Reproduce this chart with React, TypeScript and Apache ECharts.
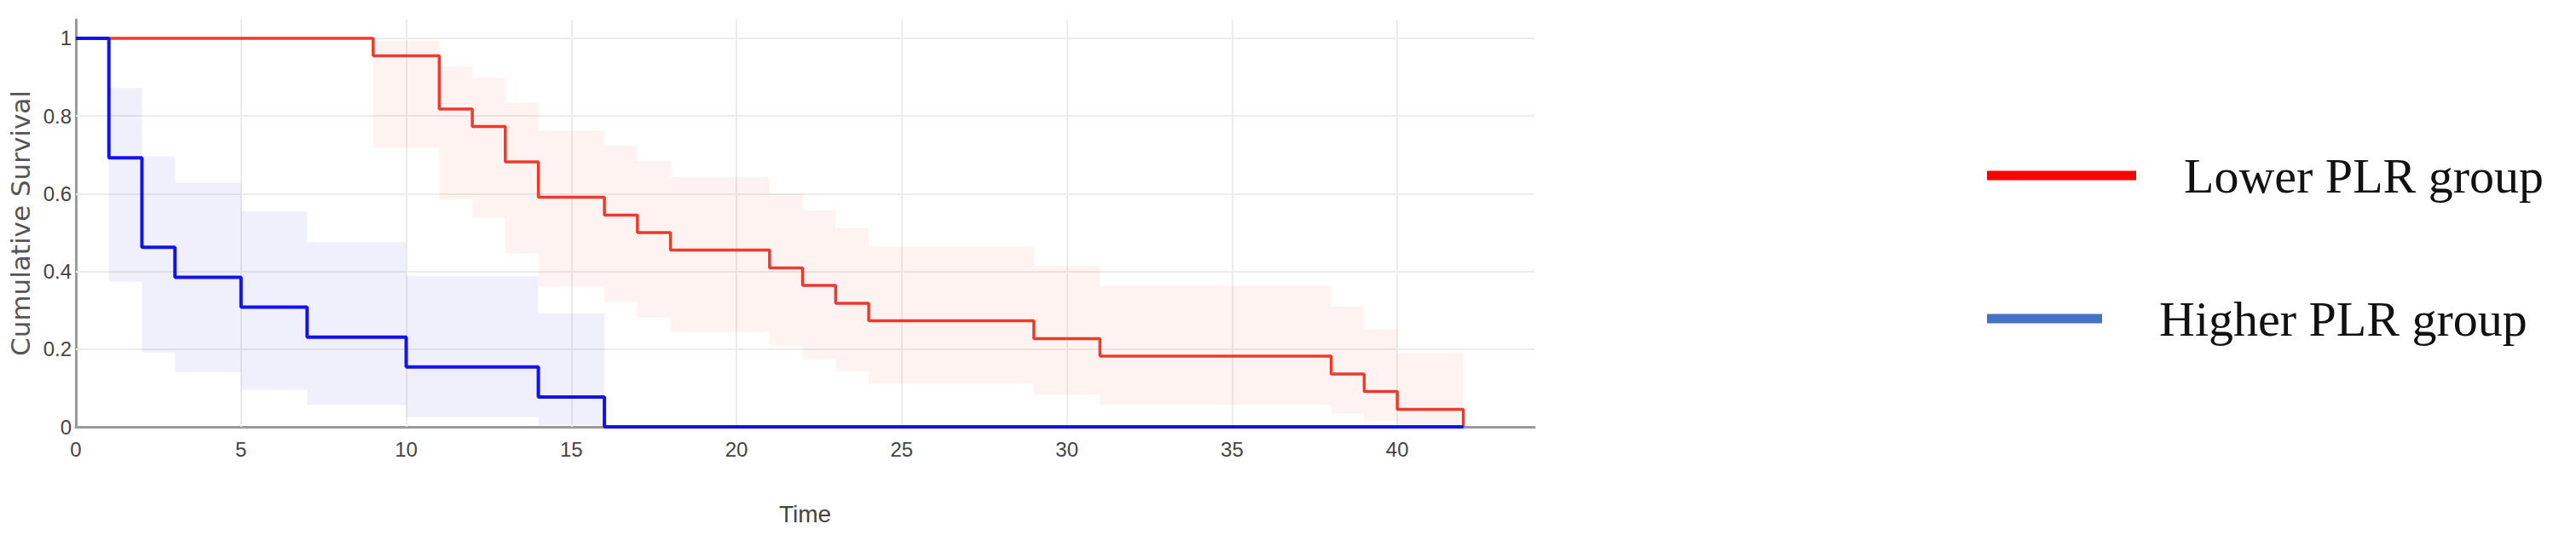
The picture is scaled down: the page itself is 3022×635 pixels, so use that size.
import React, { useEffect, useRef } from "react";
import * as echarts from "echarts";

// Kaplan–Meier curves
const lowerTimes = [0, 9, 11, 12, 13, 14, 16, 17, 18, 21, 22, 23, 24, 29, 31, 38, 39, 40, 42];
const lowerSurv = [1, 0.955, 0.818, 0.773, 0.682, 0.591, 0.545, 0.5, 0.455, 0.409, 0.364, 0.318, 0.273, 0.227, 0.182, 0.136, 0.091, 0.045, 0];

const higherTimes = [0, 1, 2, 3, 5, 7, 10, 14, 16, 42];
const higherSurv = [1, 0.692, 0.462, 0.385, 0.308, 0.231, 0.154, 0.077, 0, 0];

// Confidence bands (step-wise): band i spans bandTimes[i]..bandTimes[i+1]
const lowerBandTimes = [9, 11, 12, 13, 14, 16, 17, 18, 21, 22, 23, 24, 29, 31, 38, 39, 40, 42];
const lowerBandLow = [0.719, 0.585, 0.538, 0.446, 0.361, 0.321, 0.282, 0.244, 0.209, 0.174, 0.142, 0.111, 0.083, 0.057, 0.034, 0.016, 0.003];
const lowerBandHigh = [0.994, 0.928, 0.899, 0.834, 0.762, 0.724, 0.684, 0.643, 0.601, 0.557, 0.511, 0.464, 0.414, 0.363, 0.309, 0.251, 0.19];

const higherBandTimes = [1, 2, 3, 5, 7, 10, 14, 16];
const higherBandLow = [0.373, 0.192, 0.141, 0.095, 0.056, 0.025, 0.005];
const higherBandHigh = [0.872, 0.696, 0.628, 0.554, 0.475, 0.388, 0.292];

const xGridTicks = [5, 10, 15, 20, 25, 30, 35, 40];
const yGridTicks = [0.2, 0.4, 0.6, 0.8, 1];

const LOWER_NAME = "Lower PLR group";
const HIGHER_NAME = "Higher PLR group";

const labelFont = "'Liberation Sans Narrow', 'Liberation Sans', Arial, sans-serif";
const legendFont = "'Liberation Serif', 'Times New Roman', serif";

export default function App() {
  const ref = useRef<HTMLDivElement>(null);

  useEffect(() => {
    if (!ref.current) return;
    const chart = echarts.init(ref.current, undefined, { renderer: "svg" });

    const pairs = (xs: number[], ys: number[]) => xs.map((x, i) => [x, ys[i]]);
    const bandRows = (ts: number[], lo: number[], hi: number[]) =>
      lo.map((l, i) => [ts[i], ts[i + 1], l, hi[i]]);

    const bandSeries = (name: string, rows: number[][], fill: string) => ({
      name,
      type: "custom",
      silent: true,
      z: 2,
      encode: { x: [0, 1], y: [2, 3] },
      data: rows,
      renderItem: (_params: any, api: any) => {
        const p0 = api.coord([api.value(0), api.value(3)]);
        const p1 = api.coord([api.value(1), api.value(2)]);
        return {
          type: "rect",
          shape: { x: p0[0], y: p0[1], width: p1[0] - p0[0], height: p1[1] - p0[1] },
          style: { fill },
        };
      },
    });

    const gridLines = [
      ...yGridTicks.map((v) => ({ yAxis: v })),
      ...xGridTicks.map((v) => ({ xAxis: v })),
    ];

    chart.setOption({
      animation: false,
      backgroundColor: "#ffffff",
      grid: { left: 89, top: 23, width: 1711, height: 478, containLabel: false },
      xAxis: {
        type: "value",
        min: 0,
        max: 44.15,
        interval: 5,
        name: "Time",
        nameLocation: "middle",
        nameGap: 88,
        nameTextStyle: { fontFamily: labelFont, fontSize: 28, color: "#444" },
        axisLine: { show: true, onZero: false, lineStyle: { color: "#9a9a9a", width: 3 } },
        axisTick: { show: false },
        splitLine: { show: false },
        axisLabel: { fontFamily: labelFont, fontSize: 24, color: "#444", margin: 14, showMaxLabel: false },
      },
      yAxis: {
        type: "value",
        min: 0,
        max: 1.048,
        interval: 0.2,
        name: "Cumulative Survival",
        nameLocation: "middle",
        nameRotate: 90,
        nameGap: 44,
        nameTextStyle: { fontFamily: "'DejaVu Sans', sans-serif", fontSize: 31, color: "#555" },
        axisLine: { show: true, lineStyle: { color: "#9a9a9a", width: 3 } },
        axisTick: { show: false },
        splitLine: { show: false },
        axisLabel: { fontFamily: labelFont, fontSize: 24, color: "#444", margin: 5, showMaxLabel: false },
      },
      legend: [
        {
          data: [{ name: LOWER_NAME, icon: "rect", itemStyle: { color: "#FF0000", borderWidth: 0 } }],
          left: 2326,
          top: 172,
          itemWidth: 175,
          itemHeight: 11,
          selectedMode: false,
          textStyle: { fontFamily: legendFont, fontSize: 58, color: "#111", padding: [0, 0, 0, 51] },
        },
        {
          data: [{ name: HIGHER_NAME, icon: "rect", itemStyle: { color: "#4472C4", borderWidth: 0 } }],
          left: 2326,
          top: 340,
          itemWidth: 135,
          itemHeight: 11,
          selectedMode: false,
          textStyle: { fontFamily: legendFont, fontSize: 58, color: "#111", padding: [0, 0, 0, 62] },
        },
      ],
      series: [
        {
          name: "grid",
          type: "line",
          symbol: "none",
          silent: true,
          data: [],
          markLine: {
            silent: true,
            z: 1,
            symbol: ["none", "none"],
            label: { show: false },
            lineStyle: { color: "#ececec", width: 2, type: "solid" },
            data: gridLines,
          },
        },
        bandSeries("Lower CI", bandRows(lowerBandTimes, lowerBandLow, lowerBandHigh), "rgba(255, 80, 60, 0.07)"),
        bandSeries("Higher CI", bandRows(higherBandTimes, higherBandLow, higherBandHigh), "rgba(60, 60, 230, 0.08)"),
        {
          name: LOWER_NAME,
          type: "line",
          step: "end",
          symbol: "none",
          z: 3,
          color: "#EE3A2C",
          lineStyle: { color: "#EE3A2C", width: 3.5 },
          data: pairs(lowerTimes, lowerSurv),
        },
        {
          name: HIGHER_NAME,
          type: "line",
          step: "end",
          symbol: "none",
          z: 4,
          color: "#1212EE",
          lineStyle: { color: "#1212EE", width: 4 },
          data: pairs(higherTimes, higherSurv),
        },
      ],
    });

    return () => chart.dispose();
  }, []);

  return (
    <div
      ref={ref}
      style={{ position: "fixed", left: 0, top: 0, width: 3022, height: 635, background: "#fff" }}
    />
  );
}
